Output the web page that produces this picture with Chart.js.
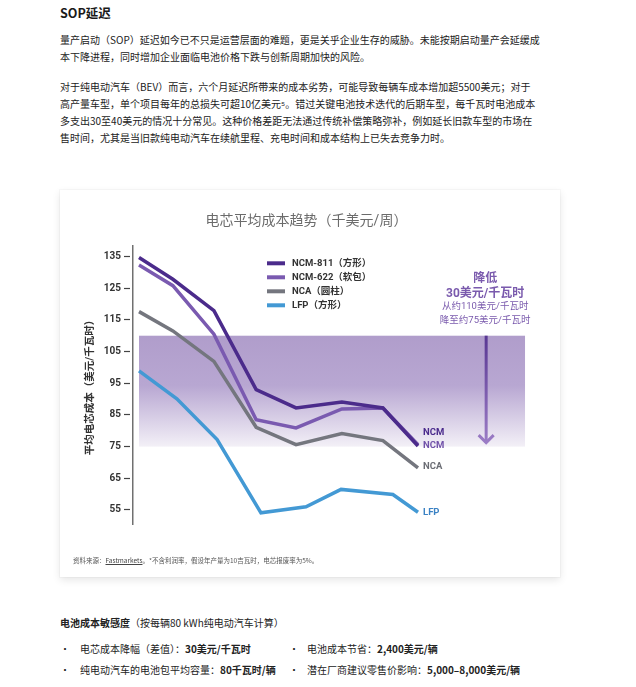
<!DOCTYPE html>
<html>
<head>
<meta charset="utf-8">
<script src="https://cdn.jsdelivr.net/npm/chart.js@4.4.0/dist/chart.umd.min.js"></script>
<style>
  body { margin: 0; background: #fff; font-family: "Noto Sans CJK SC", sans-serif; color: #222; }
  .blk { position: absolute; left: 60px; white-space: nowrap; font-size: 10px; line-height: 17px; }
  .h { font-weight: bold; font-size: 12.5px; color: #1a1a1a; }
  #card { position: absolute; left: 60px; top: 190px; width: 500px; height: 387px; background: #fff;
          box-shadow: 0 3px 8px rgba(0,0,0,0.10), 0 0 0 1px rgba(0,0,0,0.025); }
  #card canvas { position: absolute; left: 0; top: 0; }
  #src { position: absolute; left: 13px; top: 365px; font-size: 6.5px; line-height: 10px; color: #555; white-space: nowrap; }
  #src u { color: #444; }
  .bul { position: absolute; font-size: 10px; line-height: 17px; white-space: nowrap; }
  b { font-weight: bold; }
</style>
</head>
<body>
<div class="blk h" style="top:4px">SOP延迟</div>
<div class="blk" style="top:31px">量产启动（SOP）延迟如今已不只是运营层面的难题，更是关乎企业生存的威胁。未能按期启动量产会延缓成<br>本下降进程，同时增加企业面临电池价格下跌与创新周期加快的风险。</div>
<div class="blk" style="top:78px">对于纯电动汽车（BEV）而言，六个月延迟所带来的成本劣势，可能导致每辆车成本增加超5500美元；对于<br>高产量车型，单个项目每年的总损失可超10亿美元⁵。错过关键电池技术迭代的后期车型，每千瓦时电池成本<br>多支出30至40美元的情况十分常见。这种价格差距无法通过传统补偿策略弥补，例如延长旧款车型的市场在<br>售时间，尤其是当旧款纯电动汽车在续航里程、充电时间和成本结构上已失去竞争力时。</div>

<div id="card">
  <canvas id="chart" width="500" height="387"></canvas>
  <div id="src">资料来源：<u>Fastmarkets</u>。*不含利润率，假设年产量为10吉瓦时，电芯报废率为5%。</div>
</div>

<div class="blk" style="top:614px"><b>电池成本敏感度</b>（按每辆80 kWh纯电动汽车计算）</div>
<div class="bul" style="left:60px;top:640px">•</div>
<div class="bul" style="left:80px;top:640px">电芯成本降幅（差值）：<b>30美元/千瓦时</b></div>
<div class="bul" style="left:289px;top:640px">•</div>
<div class="bul" style="left:307px;top:640px">电池成本节省：<b>2,400美元/辆</b></div>
<div class="bul" style="left:60px;top:661px">•</div>
<div class="bul" style="left:80px;top:661px">纯电动汽车的电池包平均容量：<b>80千瓦时/辆</b></div>
<div class="bul" style="left:289px;top:661px">•</div>
<div class="bul" style="left:307px;top:661px">潜在厂商建议零售价影响：<b>5,000–8,000美元/辆</b></div>

<script>
// series
const seriesNames = ['NCM-811（方形）', 'NCM-622（软包）', 'NCA（圆柱）', 'LFP（方形）'];
const endLabels = ['NCM', 'NCM', 'NCA', 'LFP'];
const xPos = [0, 0.85, 1.88, 2.94, 3.94, 5.09, 6.12, 7];
const xPosLfp = [0, 0.95, 1.96, 3.06, 4.19, 5.07, 6.37, 7];
const ncm811 = [134.7, 127.8, 117.9, 93.0, 87.2, 89.1, 87.2, 75.2];
const ncm622 = [132.3, 125.8, 110.5, 83.5, 80.9, 86.9, 87.2, 75.6];
const nca = [117.6, 111.5, 101.9, 81.1, 75.6, 79.1, 76.9, 68.3];
const lfp = [98.9, 90.1, 77.2, 54.1, 56.0, 61.5, 59.9, 54.3];
const yTicks = [55, 65, 75, 85, 95, 105, 115, 125, 135];

// shaded range and arrow: from ~110 down to ~75 $/kWh
const bandLow = 75, bandHigh = 110, bandEnd = 9.685;
const arrowX = 8.71, arrowTip = 75.8;
const noteLines = ['降低', '30美元/千瓦时', '从约110美元/千瓦时', '降至约75美元/千瓦时'];

const colors = ['#4b2b8b', '#7a5ab0', '#74767e', '#4399d4'];
const labelColors = ['#4a2a8c', '#7151a9', '#6b6d74', '#3b82c4'];
const FONT = 'Roboto, "Noto Sans CJK SC", sans-serif';

const pts = (xs, ys) => xs.map((x, i) => ({ x: x, y: ys[i] }));
const values = [ncm811, ncm622, nca, lfp];
const xsFor = [xPos, xPos, xPos, xPosLfp];

const decor = {
  id: 'decor',
  beforeDatasetsDraw(chart) {
    const { ctx, scales: { x, y } } = chart;
    const l = x.getPixelForValue(0), r = x.getPixelForValue(bandEnd);
    const t = y.getPixelForValue(bandHigh), b = y.getPixelForValue(bandLow);
    const g = ctx.createLinearGradient(0, t, 0, b);
    g.addColorStop(0, '#b09dcb');
    g.addColorStop(0.45, '#b8a7d2');
    g.addColorStop(1, '#f3f0f7');
    ctx.save();
    ctx.fillStyle = g;
    ctx.fillRect(l, t, r - l, b - t);
    ctx.restore();
  },
  afterDatasetsDraw(chart) {
    const { ctx, chartArea, scales: { x, y } } = chart;
    ctx.save();

    // arrow
    const ax = x.getPixelForValue(arrowX);
    const at = y.getPixelForValue(bandHigh), ab = y.getPixelForValue(arrowTip);
    const g = ctx.createLinearGradient(0, at, 0, ab);
    g.addColorStop(0, '#593893');
    g.addColorStop(1, '#9c7dc6');
    ctx.strokeStyle = g;
    ctx.lineWidth = 3;
    ctx.beginPath();
    ctx.moveTo(ax, at);
    ctx.lineTo(ax, ab - 1);
    ctx.stroke();
    ctx.beginPath();
    ctx.moveTo(ax - 7.5, ab - 9);
    ctx.lineTo(ax, ab - 1.5);
    ctx.lineTo(ax + 7.5, ab - 9);
    ctx.stroke();

    // note above the arrow
    ctx.fillStyle = '#7a5aad';
    ctx.textAlign = 'center';
    ctx.textBaseline = 'middle';
    const noteY = [-56.3, -42, -29.3, -15.3];
    noteLines.forEach((s, i) => {
      ctx.font = (i < 2 ? 'bold 12px ' : '9.5px ') + FONT;
      ctx.fillText(s, ax - 1, at + noteY[i]);
    });

    // end labels
    const offs = [-13, 1, -1, 0];
    ctx.textAlign = 'left';
    ctx.font = 'bold 9.5px ' + FONT;
    chart.data.datasets.forEach((ds, i) => {
      const meta = chart.getDatasetMeta(i);
      const p = meta.data[meta.data.length - 1];
      ctx.fillStyle = labelColors[i];
      ctx.fillText(endLabels[i], p.x + 5, p.y + offs[i]);
    });

    // legend
    const lx = chartArea.left + 134;
    seriesNames.forEach((s, i) => {
      const ly = chartArea.top + 17.3 + i * 14;
      ctx.strokeStyle = colors[i];
      ctx.lineWidth = 4;
      ctx.beginPath();
      ctx.moveTo(lx, ly);
      ctx.lineTo(lx + 18, ly);
      ctx.stroke();
      ctx.fillStyle = '#333';
      ctx.font = 'bold 9.5px ' + FONT;
      ctx.fillText(s, lx + 25, ly);
    });
    ctx.restore();
  }
};

new Chart(document.getElementById('chart'), {
  type: 'line',
  data: {
    datasets: values.map((v, i) => ({
      label: seriesNames[i],
      data: pts(xsFor[i], v),
      borderColor: colors[i],
      borderWidth: 3.5,
      pointRadius: 0,
      tension: 0,
      borderJoinStyle: 'miter',
      fill: false
    }))
  },
  options: {
    responsive: false,
    animation: false,
    layout: { padding: { top: 0, left: 0, right: 7, bottom: 53 } },
    scales: {
      x: { type: 'linear', display: false, min: -0.1505, max: 10.387 },
      y: {
        min: 50.58,
        max: 138.31,
        afterBuildTicks: s => { s.ticks = yTicks.map(v => ({ value: v })); },
        afterFit: s => { s.width = 73; },
        border: { display: true, color: '#707070', width: 1.5 },
        grid: { drawOnChartArea: false, drawTicks: true, tickLength: 9, tickColor: '#444', tickWidth: 1.2, tickBorderDash: [6, 3] },
        ticks: { padding: 3, color: '#333', font: { family: FONT, size: 10, weight: 'bold' } },
        title: {
          display: true,
          text: '平均电芯成本（美元/千瓦时）',
          color: '#333',
          font: { family: FONT, size: 10.5, weight: 'bold' },
          padding: { top: 24.2, bottom: 0 }
        }
      }
    },
    plugins: {
      legend: { display: false },
      tooltip: { enabled: false },
      title: {
        display: true,
        text: '电芯平均成本趋势（千美元/周）',
        color: '#6b6b6b',
        font: { family: FONT, size: 14, weight: 'normal' },
        padding: { top: 23.3, bottom: 15.9 }
      }
    }
  },
  plugins: [decor]
});
</script>
</body>
</html>
